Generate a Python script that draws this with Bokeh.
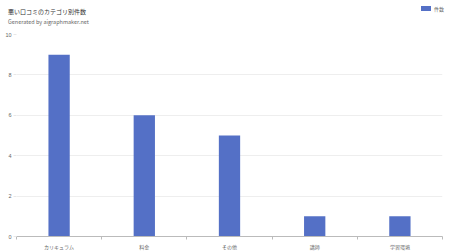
from bokeh.plotting import figure
from bokeh.layouts import column
from bokeh.models import Range1d, FixedTicker, ColumnDataSource, Div
from bokeh.embed import file_html
from bokeh.resources import INLINE

categories = ["カリキュラム", "料金", "その他", "講師", "学習環境"]
counts = [9, 6, 5, 1, 1]
y_ticks = [0, 2, 4, 6, 8, 10]
series_name = "件数"
title_text = "悪い口コミのカテゴリ別件数"
subtitle_text = "Generated by aigraphmaker.net"

FONT = "Noto Sans CJK JP"
BAR = "#5470c6"
W, H_HEAD, H_MAIN = 450, 31, 221

# ---- header: title, subtitle and legend ----
header_html = f"""
<div style="position:relative;width:{W}px;height:{H_HEAD}px;font-family:'{FONT}';margin:0;padding:0;">
  <div style="position:absolute;left:8px;top:8px;font-size:6px;line-height:8px;color:#333333;white-space:nowrap;">{title_text}</div>
  <div style="position:absolute;left:8px;top:19px;font-size:5.5px;line-height:7px;color:#666666;white-space:nowrap;">{subtitle_text}</div>
  <div style="position:absolute;left:421px;top:6px;width:10px;height:5px;background:{BAR};"></div>
  <div style="position:absolute;left:434px;top:5px;font-size:5px;line-height:7px;color:#666666;white-space:nowrap;">{series_name}</div>
</div>
"""
h = Div(text=header_html, width=W, height=H_HEAD, margin=(0, 0, 0, 0))

# ---- main chart ----
xs = [i + 0.5 for i in range(len(categories))]
src = ColumnDataSource(dict(x=xs, top=counts, cat=categories))

p = figure(width=W, height=H_MAIN, output_backend="svg", toolbar_location=None,
           x_range=Range1d(0, len(categories)), y_range=Range1d(0, 10),
           min_border_left=16, min_border_right=8, min_border_top=3, min_border_bottom=0)
p.outline_line_color = None
p.background_fill_color = "white"
p.border_fill_color = "white"

p.vbar(x="x", top="top", width=0.25, source=src, color=BAR, line_color=None,
       legend_label=series_name)
p.legend.visible = False

p.xaxis.ticker = FixedTicker(ticks=xs, minor_ticks=list(range(len(categories) + 1)))
p.xaxis.major_label_overrides = {x: c for x, c in zip(xs, categories)}
p.xaxis.major_tick_line_color = None
p.xaxis.major_tick_in = 0
p.xaxis.major_tick_out = 0
p.xaxis.minor_tick_in = 0
p.xaxis.minor_tick_out = 3
p.xaxis.minor_tick_line_color = "#bbbbbb"
p.xaxis.axis_line_color = "#bbbbbb"
p.xaxis.major_label_text_font = FONT
p.xaxis.major_label_text_font_size = "5px"
p.xaxis.major_label_text_color = "#666666"
p.xaxis.major_label_standoff = 3
p.xgrid.grid_line_color = None

p.yaxis.ticker = FixedTicker(ticks=y_ticks, minor_ticks=[])
p.yaxis.axis_line_color = None
p.yaxis.major_tick_in = 0
p.yaxis.major_tick_out = 3
p.yaxis.major_tick_line_color = "#e8e8e8"
p.yaxis.major_label_text_font = "Liberation Sans"
p.yaxis.major_label_text_font_size = "5.5px"
p.yaxis.major_label_text_color = "#666666"
p.yaxis.major_label_standoff = 2
p.ygrid.grid_line_color = "#eeeeee"

layout = column(h, p, spacing=0)
open("out.html", "w").write(file_html(layout, INLINE))
